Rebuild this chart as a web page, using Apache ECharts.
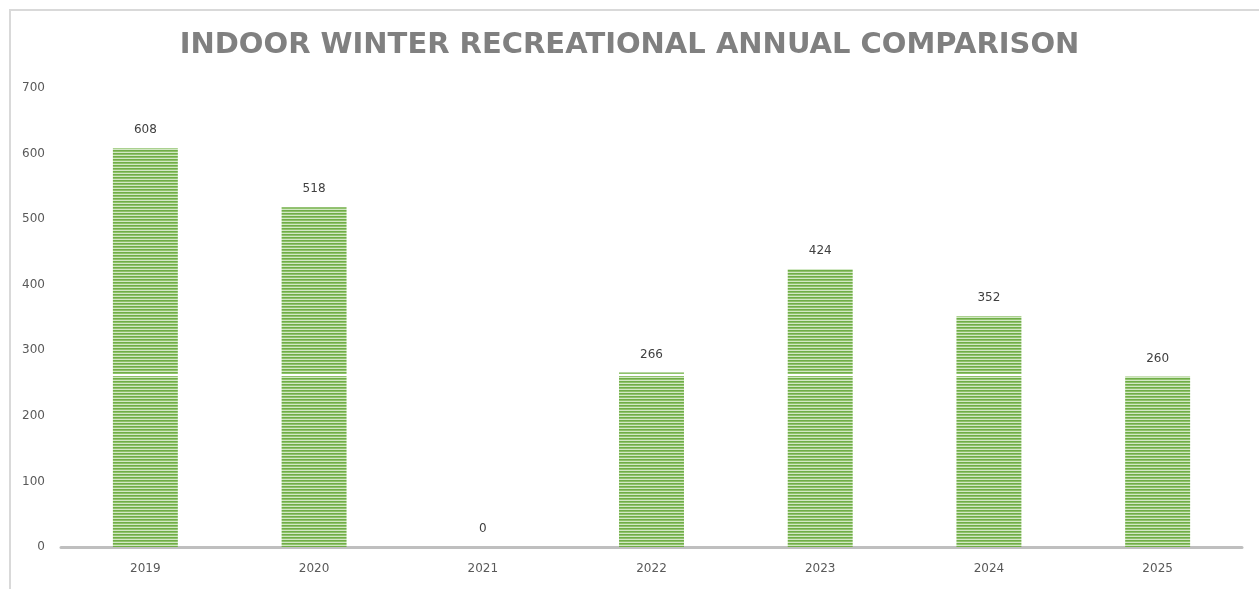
<!DOCTYPE html>
<html>
<head>
<meta charset="utf-8">
<script src="https://cdn.jsdelivr.net/npm/echarts@6/dist/echarts.min.js"></script>
<style>
  html, body { margin: 0; padding: 0; background: #fff; }
  #frame { position: absolute; left: 9px; top: 9px; width: 1250px; height: 580px;
           border-left: 2px solid #d9d9d9; border-top: 2px solid #d9d9d9; box-sizing: border-box; }
  #chart { width: 1259px; height: 589px; position: absolute; left: 0; top: 0; }
</style>
</head>
<body>
<div id="frame"></div>
<div id="chart"></div>
<script>
const years = ['2019', '2020', '2021', '2022', '2023', '2024', '2025']
const participants = [608, 518, 0, 266, 424, 352, 260]
const yTicks = [0, 100, 200, 300, 400, 500, 600, 700]

// striped fill like the original spreadsheet bars
const stripe = document.createElement('canvas')
stripe.width = 3
stripe.height = 3
const sctx = stripe.getContext('2d')
sctx.fillStyle = '#70ad47'
sctx.fillRect(0, 0, 3, 1)
sctx.fillStyle = '#8fc26b'
sctx.fillRect(0, 1, 3, 1)
sctx.fillStyle = '#d2e8c4'
sctx.fillRect(0, 2, 3, 1)

const chart = echarts.init(document.getElementById('chart'), null, { renderer: 'canvas' })

const option = {
  animation: false,
  title: {
    text: 'INDOOR WINTER RECREATIONAL ANNUAL COMPARISON',
    left: 'center',
    top: 26,
    textStyle: {
      fontFamily: 'DejaVu Sans',
      fontWeight: 'bold',
      fontSize: 29,
      color: '#808080'
    }
  },
  grid: {
    left: 61,
    right: 17,
    top: 88,
    bottom: 42
  },
  xAxis: {
    type: 'category',
    data: years,
    axisLine: { lineStyle: { color: '#bfbfbf', width: 3 } },
    axisTick: { show: false },
    axisLabel: {
      color: '#595959',
      fontSize: 12,
      fontFamily: 'DejaVu Sans',
      margin: 16
    }
  },
  yAxis: {
    type: 'value',
    min: yTicks[0],
    max: yTicks[yTicks.length - 1],
    interval: 100,
    axisLine: { show: false },
    axisTick: { show: false },
    splitLine: { show: false },
    axisLabel: {
      color: '#595959',
      fontSize: 12,
      fontFamily: 'DejaVu Sans',
      margin: 16
    }
  },
  series: [
    {
      type: 'bar',
      data: participants,
      barWidth: '38.5%',
      itemStyle: {
        color: { image: stripe, repeat: 'repeat' }
      },
      label: {
        show: true,
        position: 'top',
        distance: 12,
        color: '#404040',
        fontSize: 12,
        fontFamily: 'DejaVu Sans'
      },
      markLine: {
        symbol: 'none',
        silent: true,
        label: { show: false },
        lineStyle: { color: '#ffffff', width: 2, type: 'solid' },
        data: [{ yAxis: 262 }]
      }
    }
  ]
}
chart.setOption(option)
</script>
</body>
</html>
